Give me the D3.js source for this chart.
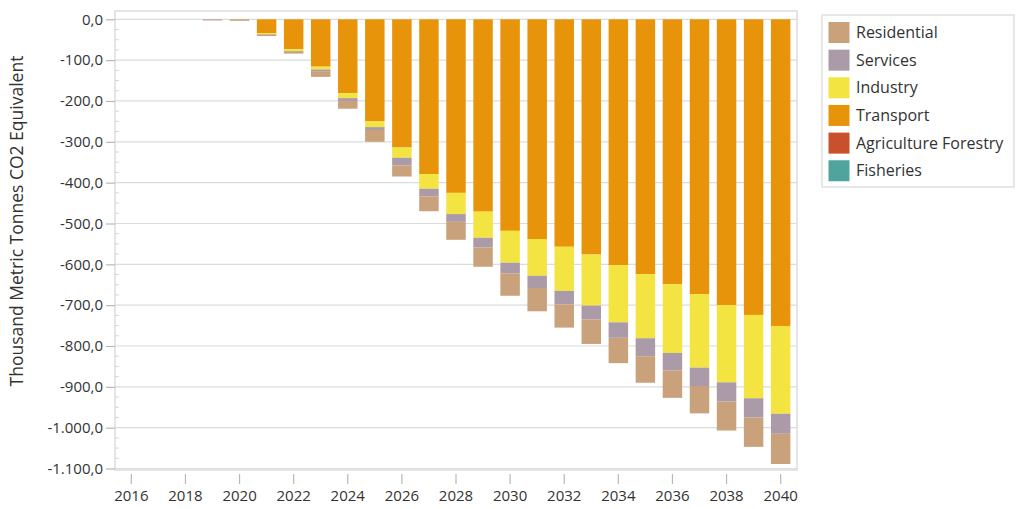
<!DOCTYPE html>
<html><head><meta charset="utf-8">
<script src="https://cdn.jsdelivr.net/npm/d3@7"></script>
<style>
html,body{margin:0;padding:0;background:#fff;}
svg{display:block;font-family:"Open Sans","Segoe UI",sans-serif;}
</style></head>
<body>
<svg id="chart" width="1016" height="509"></svg>
<script>
// ---- data (thousand metric tonnes CO2 eq., reductions are negative) ----
const years = [2016,2017,2018,2019,2020,2021,2022,2023,2024,2025,2026,2027,2028,2029,2030,2031,2032,2033,2034,2035,2036,2037,2038,2039,2040];
const transport   = [0,0,0,0,-1,-34,-73,-116,-181,-250,-314,-379,-425,-471,-518,-538,-557,-576,-602,-624,-649,-673,-700,-724,-751];
const industry    = [0,0,0,0,0,-2,-5,-7,-12,-14,-25,-36,-52,-64,-78,-90,-108,-125,-140,-157,-168,-180,-189,-204,-215];
const services    = [0,0,0,-1,-1,-1,-2,-4,-7,-7,-19,-19,-19,-24,-26,-30,-33,-34,-38,-44,-43,-45,-47,-47,-49];
const residential = [0,0,0,-2,-2,-4,-4,-14,-19,-29,-27,-36,-44,-47,-55,-57,-57,-60,-62,-65,-67,-67,-71,-72,-74];
const agriculture = [0,0,0,0,0,0,0,0,0,0,0,0,0,0,0,0,0,0,0,0,0,0,0,0,0];
const fisheries   = [0,0,0,0,0,0,0,0,0,0,0,0,0,0,0,0,0,0,0,0,0,0,0,0,0];
const yTicks = [0,-100,-200,-300,-400,-500,-600,-700,-800,-900,-1000,-1100];
const xTickYears = [2016,2018,2020,2022,2024,2026,2028,2030,2032,2034,2036,2038,2040];
const legendNames = ["Residential","Services","Industry","Transport","Agriculture Forestry","Fisheries"];
const yTitle = "Thousand Metric Tonnes CO2 Equivalent";

const colors = {
  "Residential":"#c9a27c",
  "Services":"#ab9ba8",
  "Industry":"#f4e442",
  "Transport":"#e8940b",
  "Agriculture Forestry":"#c9502c",
  "Fisheries":"#4fa59e"
};

const seriesMap = {
  "Transport":transport, "Industry":industry, "Services":services,
  "Residential":residential, "Agriculture Forestry":agriculture, "Fisheries":fisheries
};
const stackKeys = ["Transport","Industry","Services","Residential","Agriculture Forestry","Fisheries"];
const table = years.map((y,i)=>{
  const o={year:y};
  stackKeys.forEach(k=>o[k]=seriesMap[k][i]);
  return o;
});

const svg = d3.select("#chart");
const frame = {left:115, right:797, top:11, bottom:470};

const x = d3.scaleBand().domain(years).range([121.6,790.4]).paddingInner(0.28).paddingOuter(0);
const y = d3.scaleLinear().domain([0,-1100]).range([19.3,468.5]);

const loc = d3.formatLocale({decimal:",", thousands:".", grouping:[3], currency:["",""], minus:"-"});
const fmt = loc.format(",.1f");

// frame
svg.append("rect").attr("x",frame.left).attr("y",frame.top)
  .attr("width",frame.right-frame.left).attr("height",frame.bottom-frame.top)
  .attr("fill","none").attr("stroke","#d4d4d4").attr("stroke-width",1.2);

// gridlines
svg.append("g").selectAll("line").data(yTicks).join("line")
  .attr("x1",frame.left).attr("x2",frame.right)
  .attr("y1",d=>y(d)).attr("y2",d=>y(d))
  .attr("stroke","#dcdcdc").attr("stroke-width",1.2);

// minor ticks every 25
const minor = d3.range(0,-1101,-25).filter(v=>v%100!==0);
svg.append("g").selectAll("line").data(minor).join("line")
  .attr("x1",frame.left).attr("x2",frame.left+4)
  .attr("y1",d=>y(d)).attr("y2",d=>y(d))
  .attr("stroke","#d6d6d6").attr("stroke-width",1);

// y axis
const yAxis = d3.axisLeft(y).tickValues(yTicks).tickFormat(fmt).tickSize(9).tickPadding(3);
const gy = svg.append("g").attr("transform",`translate(${frame.left},0)`).call(yAxis);
gy.select(".domain").remove();
gy.selectAll(".tick line").attr("stroke","#b8b8b8").attr("stroke-width",1.2);
gy.selectAll(".tick text").attr("fill","#333").style("font-size","15px").style("font-family","'Open Sans',sans-serif");

// x axis
const xAxis = d3.axisBottom(x).tickValues(xTickYears).tickSize(10).tickPadding(6);
const gx = svg.append("g").attr("transform",`translate(0,${frame.bottom+4})`).call(xAxis);
gx.select(".domain").remove();
gx.selectAll(".tick line").attr("stroke","#b8b8b8").attr("stroke-width",1.2);
gx.selectAll(".tick text").attr("fill","#333").style("font-size","15px").style("font-family","'Open Sans',sans-serif");

// bars
const stack = d3.stack().keys(stackKeys).offset(d3.stackOffsetDiverging);
const layers = stack(table);
svg.append("g").selectAll("g").data(layers).join("g")
  .attr("fill",d=>colors[d.key])
  .selectAll("rect").data(d=>d).join("rect")
  .attr("x",d=>x(d.data.year))
  .attr("width",x.bandwidth())
  .attr("y",d=>y(Math.max(d[0],d[1])))
  .attr("height",d=>Math.abs(y(d[0])-y(d[1])));

// y title
svg.append("text")
  .attr("transform","translate(23,221) rotate(-90)")
  .attr("text-anchor","middle")
  .attr("fill","#333")
  .style("font-size","17.5px")
  .text(yTitle);

// legend
const lg = svg.append("g");
lg.append("rect").attr("x",822).attr("y",15).attr("width",192).attr("height",172)
  .attr("fill","#fff").attr("stroke","#d8d8d8").attr("stroke-width",1.2);
const items = lg.selectAll("g.item").data(legendNames).join("g").attr("class","item")
  .attr("transform",(d,i)=>`translate(0,${32.5+i*27.65})`);
items.append("rect").attr("x",828.5).attr("y",-10.5).attr("width",21).attr("height",21)
  .attr("fill",d=>colors[d]);
items.append("text").attr("x",856).attr("y",0).attr("dy","0.35em")
  .attr("fill","#333").style("font-size","16px").text(d=>d);
</script>
</body></html>
